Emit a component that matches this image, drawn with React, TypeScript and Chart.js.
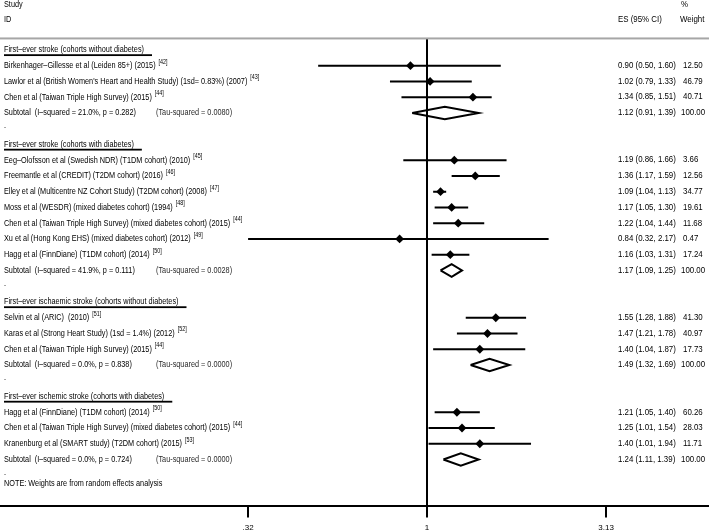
import React, { useEffect, useRef } from "react";
import { Chart, registerables } from "chart.js";

Chart.register(...registerables);

// ---------- data ----------
const groupTitles = [
  "First–ever stroke (cohorts without diabetes)",
  "First–ever stroke (cohorts with diabetes)",
  "First–ever ischaemic stroke (cohorts without diabetes)",
  "First–ever ischemic stroke (cohorts with diabetes)",
];
const subtotalLabels = [
  "Subtotal  (I–squared = 21.0%, p = 0.282)",
  "Subtotal  (I–squared = 41.9%, p = 0.111)",
  "Subtotal  (I–squared = 0.0%, p = 0.838)",
  "Subtotal  (I–squared = 0.0%, p = 0.724)",
];
const tauLabels = [
  "(Tau-squared = 0.0080)",
  "(Tau-squared = 0.0028)",
  "(Tau-squared = 0.0000)",
  "(Tau-squared = 0.0000)",
];
const subtotalES = [1.12, 1.17, 1.49, 1.24];
const subtotalLower = [0.91, 1.09, 1.32, 1.11];
const subtotalUpper = [1.39, 1.25, 1.69, 1.39];
const subtotalWeight = ["100.00", "100.00", "100.00", "100.00"];

const studyNames = [
  "Birkenhager–Gillesse et al (Leiden 85+) (2015)",
  "Lawlor et al (British Women's Heart and Health Study) (1sd= 0.83%) (2007)",
  "Chen et al (Taiwan Triple High Survey) (2015)",
  "Eeg–Olofsson et al (Swedish NDR) (T1DM cohort) (2010)",
  "Freemantle et al (CREDIT) (T2DM cohort) (2016)",
  "Elley et al (Multicentre NZ Cohort Study) (T2DM cohort) (2008)",
  "Moss et al (WESDR) (mixed diabetes cohort) (1994)",
  "Chen et al (Taiwan Triple High Survey) (mixed diabetes cohort) (2015)",
  "Xu et al (Hong Kong EHS) (mixed diabetes cohort) (2012)",
  "Hagg et al (FinnDiane) (T1DM cohort) (2014)",
  "Selvin et al (ARIC)  (2010)",
  "Karas et al (Strong Heart Study) (1sd = 1.4%) (2012)",
  "Chen et al (Taiwan Triple High Survey) (2015)",
  "Hagg et al (FinnDiane) (T1DM cohort) (2014)",
  "Chen et al (Taiwan Triple High Survey) (mixed diabetes cohort) (2015)",
  "Kranenburg et al (SMART study) (T2DM cohort) (2015)",
];
const studyRefs = ["42", "43", "44", "45", "46", "47", "48", "44", "49", "50", "51", "52", "44", "50", "44", "53"];
const studyGroup = [0, 0, 0, 1, 1, 1, 1, 1, 1, 1, 2, 2, 2, 3, 3, 3];
const studyES = [0.9, 1.02, 1.34, 1.19, 1.36, 1.09, 1.17, 1.22, 0.84, 1.16, 1.55, 1.47, 1.4, 1.21, 1.25, 1.4];
const studyLower = [0.5, 0.79, 0.85, 0.86, 1.17, 1.04, 1.05, 1.04, 0.32, 1.03, 1.28, 1.21, 1.04, 1.05, 1.01, 1.01];
const studyUpper = [1.6, 1.33, 1.51, 1.66, 1.59, 1.13, 1.3, 1.44, 2.17, 1.31, 1.88, 1.78, 1.87, 1.4, 1.54, 1.94];
const studyWeight = ["12.50", "46.79", "40.71", "3.66", "12.56", "34.77", "19.61", "11.68", "0.47", "17.24", "41.30", "40.97", "17.73", "60.26", "28.03", "11.71"];

const tickValues = [0.32, 1, 3.13];
const tickLabels = [".32", "1", "3.13"];
const noteText = "NOTE: Weights are from random effects analysis";

// ---------- layout (rows) ----------
type Row = { kind: "heading" | "study" | "subtotal" | "dot"; r: number; idx: number };
const rows: Row[] = [];
{
  let r = 0;
  groupTitles.forEach((_, g) => {
    rows.push({ kind: "heading", r, idx: g });
    r++;
    studyNames.forEach((__, i) => {
      if (studyGroup[i] === g) {
        rows.push({ kind: "study", r, idx: i });
        r++;
      }
    });
    rows.push({ kind: "subtotal", r, idx: g });
    r++;
    rows.push({ kind: "dot", r, idx: -1 });
    r++;
  });
}
const lastRow = rows[rows.length - 1].r;

const X_MIN = 0.0659;
const X_MAX = 6.027;
const Y_TOP = -3.17;
const Y_BOTTOM = 28.92;
const REF_LINE_TOP = -0.7;

const fmt = (v: number) => v.toFixed(2);

const FAMILY = '"Liberation Sans", Arial, sans-serif';
const LEFT_FONT = `8.8px ${FAMILY}`;
const LEFT_SX = 0.83;
const RIGHT_FONT = `8.3px ${FAMILY}`;
const RIGHT_SX = 0.95;
const SUP_FONT = `6.5px ${FAMILY}`;

function drawText(ctx: CanvasRenderingContext2D, text: string, x: number, y: number, sx: number) {
  ctx.save();
  ctx.translate(x, y);
  ctx.scale(sx, 1);
  ctx.fillText(text, 0, 0);
  ctx.restore();
  return ctx.measureText(text).width * sx;
}

const textPlugin = {
  id: "forestText",
  afterDraw(chart: any) {
    const ctx = chart.ctx as CanvasRenderingContext2D;
    const ys = (r: number) => chart.scales.y.getPixelForValue(r);
    const W = chart.width;
    const leftX = 4;
    const esX = 618;
    const wtX = 681;
    const tauX = 156;
    ctx.save();
    ctx.textBaseline = "middle";
    ctx.textAlign = "left";
    ctx.fillStyle = "#000";

    // header
    ctx.font = LEFT_FONT;
    drawText(ctx, "Study", leftX, ys(-2.85), LEFT_SX);
    drawText(ctx, "ID", leftX, ys(-1.93), LEFT_SX);
    ctx.font = RIGHT_FONT;
    drawText(ctx, "%", wtX, ys(-2.9), RIGHT_SX);
    drawText(ctx, "ES (95% CI)", esX, ys(-1.93), RIGHT_SX);
    drawText(ctx, "Weight", wtX - 1, ys(-1.93), RIGHT_SX);
    ctx.fillStyle = "#a6a6a6";
    ctx.fillRect(0, ys(-0.73) - 1, W, 2);
    ctx.fillStyle = "#000";

    rows.forEach((row) => {
      const y = ys(row.r);
      if (row.kind === "heading") {
        ctx.font = LEFT_FONT;
        const w = drawText(ctx, groupTitles[row.idx], leftX, y, LEFT_SX);
        ctx.fillRect(leftX, y + 4.3, w + 8, 1.8);
      } else if (row.kind === "study") {
        ctx.font = LEFT_FONT;
        const w = drawText(ctx, studyNames[row.idx], leftX, y, LEFT_SX);
        ctx.font = SUP_FONT;
        drawText(ctx, "[" + studyRefs[row.idx] + "]", leftX + w + 3, y - 3.8, LEFT_SX);
        ctx.font = RIGHT_FONT;
        const i = row.idx;
        drawText(ctx, `${fmt(studyES[i])} (${fmt(studyLower[i])}, ${fmt(studyUpper[i])})`, esX, y, RIGHT_SX);
        drawText(ctx, studyWeight[i], wtX + 2, y, RIGHT_SX);
      } else if (row.kind === "subtotal") {
        ctx.font = LEFT_FONT;
        const g = row.idx;
        drawText(ctx, subtotalLabels[g], leftX, y, LEFT_SX);
        ctx.fillStyle = "#2a2a2a";
        drawText(ctx, tauLabels[g], tauX, y, LEFT_SX);
        ctx.fillStyle = "#000";
        ctx.font = RIGHT_FONT;
        drawText(ctx, `${fmt(subtotalES[g])} (${fmt(subtotalLower[g])}, ${fmt(subtotalUpper[g])})`, esX, y, RIGHT_SX);
        drawText(ctx, subtotalWeight[g], wtX, y, RIGHT_SX);
      } else {
        ctx.font = LEFT_FONT;
        drawText(ctx, ".", leftX, y - 3, LEFT_SX);
      }
    });
    ctx.font = LEFT_FONT;
    drawText(ctx, noteText, leftX, ys(lastRow + 0.5), LEFT_SX);
    ctx.restore();
  },
};

export default function App() {
  const canvasRef = useRef<HTMLCanvasElement | null>(null);

  useEffect(() => {
    if (!canvasRef.current) return;
    const datasets: any[] = [];
    const black = "#000";

    // reference line at 1
    datasets.push({
      data: [
        { x: 1, y: REF_LINE_TOP },
        { x: 1, y: Y_BOTTOM },
      ],
      showLine: true,
      borderColor: black,
      borderWidth: 2,
      pointRadius: 0,
    });

    rows.forEach((row) => {
      if (row.kind === "study") {
        const i = row.idx;
        datasets.push({
          data: [
            { x: studyLower[i], y: row.r },
            { x: studyUpper[i], y: row.r },
          ],
          showLine: true,
          borderColor: black,
          borderWidth: 2,
          pointRadius: 0,
        });
        datasets.push({
          data: [{ x: studyES[i], y: row.r }],
          showLine: false,
          pointStyle: "rectRot",
          pointRadius: 4.4,
          backgroundColor: black,
          borderColor: black,
          borderWidth: 0,
        });
      } else if (row.kind === "subtotal") {
        const g = row.idx;
        const h = 0.4;
        datasets.push({
          data: [
            { x: subtotalLower[g], y: row.r },
            { x: subtotalES[g], y: row.r - h },
            { x: subtotalUpper[g], y: row.r },
            { x: subtotalES[g], y: row.r + h },
            { x: subtotalLower[g], y: row.r },
          ],
          showLine: true,
          borderColor: black,
          borderWidth: 2,
          borderJoinStyle: "miter",
          pointRadius: 0,
          fill: false,
          tension: 0,
        });
      }
    });

    const chart = new Chart(canvasRef.current, {
      type: "scatter",
      data: { datasets },
      options: {
        animation: false,
        responsive: true,
        maintainAspectRatio: false,
        layout: { padding: 0, autoPadding: false },
        plugins: {
          legend: { display: false },
          tooltip: { enabled: false },
        },
        scales: {
          x: {
            type: "logarithmic",
            min: X_MIN,
            max: X_MAX,
            bounds: "data",
            afterBuildTicks: (s: any) => {
              s.ticks = tickValues.map((v) => ({ value: v }));
            },
            afterFit: (s: any) => {
              s.height = 26.5;
            },
            ticks: {
              autoSkip: false,
              maxRotation: 0,
              minRotation: 0,
              padding: 5,
              color: black,
              font: { size: 8, family: FAMILY },
              callback: (_v: any, index: number) => tickLabels[index],
            },
            grid: {
              drawOnChartArea: false,
              drawTicks: true,
              tickLength: 12,
              lineWidth: 2,
              color: black,
            },
            border: { display: true, color: black, width: 2 },
          },
          y: {
            type: "linear",
            reverse: true,
            min: Y_TOP,
            max: Y_BOTTOM,
            display: false,
            ticks: { display: false },
          },
        },
      } as any,
      plugins: [textPlugin],
    });
    return () => chart.destroy();
  }, []);

  return (
    <div style={{ position: "fixed", left: 0, top: 0, width: 709, height: 532, background: "#fff" }}>
      <canvas ref={canvasRef} />
    </div>
  );
}
